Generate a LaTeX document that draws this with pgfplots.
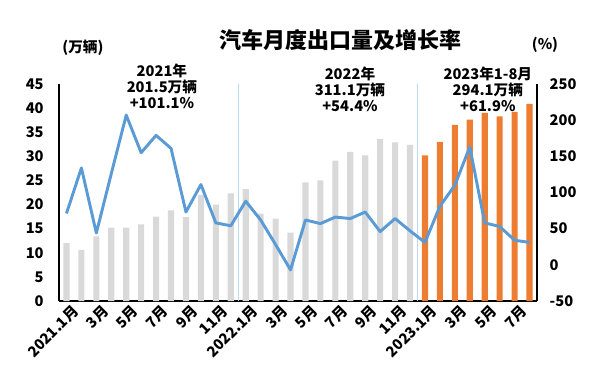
\documentclass[border=0pt]{standalone}
\usepackage{fontspec}
\setmainfont{Noto Sans CJK SC}
\usepackage{pgfplots}
\pgfplotsset{compat=1.18}
\definecolor{barGray}{HTML}{D9D9D9}
\definecolor{barOrange}{HTML}{ED7D31}
\definecolor{lineBlue}{HTML}{5B9BD5}
\definecolor{sepBlue}{HTML}{BDD7EE}
\newcommand\lbl{\bfseries\fontsize{11pt}{12pt}\selectfont}
\begin{document}
\begin{tikzpicture}
\path[use as bounding box] (-44.25pt,-59.25pt) rectangle (405.75pt,225.75pt);
\begin{axis}[
  scale only axis, width=358.5pt, height=162.75pt,
  xmin=-0.5, xmax=31.5, ymin=0, ymax=45,
  axis x line*=bottom, axis y line*=left,
  axis line style={black, line width=1pt},
  ytick={0,5,...,45},
  xtick={0,2,...,30},
  xticklabels={2021.1月,3月,5月,7月,9月,11月,2022.1月,3月,5月,7月,9月,11月,2023.1月,3月,5月,7月},
  x tick label style={rotate=45, anchor=north east, font=\lbl, inner sep=1pt, yshift=-3pt, xshift=2pt},
  y tick label style={font=\lbl, xshift=-8pt},
  major tick length=0pt,
  /pgf/number format/assume math mode=true,
  clip=false,
]
\addplot[sepBlue, line width=0.6pt] coordinates {(11.5,0) (11.5,45)};
\addplot[sepBlue, line width=0.6pt] coordinates {(23.5,0) (23.5,45)};
\addplot[ybar, bar width=4.6pt, bar shift=0pt, fill=barGray, draw=none] coordinates {
 (0,12.0) (1,10.6) (2,13.4) (3,15.2) (4,15.2) (5,15.9) (6,17.5) (7,18.8) (8,17.4) (9,22.0) (10,20.0) (11,22.3)
 (12,23.2) (13,18.1) (14,17.1) (15,14.2) (16,24.6) (17,25.0) (18,29.1) (19,30.9) (20,30.2) (21,33.6) (22,32.9) (23,32.4)};
\addplot[ybar, bar width=4.6pt, bar shift=0pt, fill=barOrange, draw=none] coordinates {
 (24,30.2) (25,33.0) (26,36.5) (27,37.6) (28,39.0) (29,38.3) (30,39.2) (31,40.9)};
\node[font=\lbl, align=center] at (axis cs:6.39,44.6) {2021年\\201.5万辆\\+101.1\%};
\node[font=\lbl, align=center] at (axis cs:18.98,44.0) {2022年\\311.1万辆\\+54.4\%};
\node[font=\lbl, align=center] at (axis cs:28.21,44.0) {2023年1-8月\\294.1万辆\\+61.9\%};
\end{axis}
\begin{axis}[
  scale only axis, width=358.5pt, height=162.75pt,
  xmin=-0.5, xmax=31.5, ymin=-50, ymax=250,
  axis y line*=right, axis x line=none,
  axis line style={black, line width=1pt},
  ytick={-50,0,...,250},
  y tick label style={font=\lbl, xshift=6pt},
  major tick length=0pt,
  /pgf/number format/assume math mode=true,
  clip=false,
]
\addplot[lineBlue, line width=2.2pt, line join=round, mark=none] coordinates {
 (0,71) (1,134) (2,44) (3,126) (4,207) (5,155) (6,179) (7,161) (8,73) (9,111) (10,58) (11,54)
 (12,88) (13,62) (14,28) (15,-7) (16,62) (17,57) (18,66) (19,64) (20,73) (21,46) (22,64) (23,47)
 (24,31) (25,81) (26,110) (27,163) (28,58) (29,53) (30,34) (31,31)};
\end{axis}
\node[font=\bfseries\fontsize{16.5pt}{18pt}\selectfont] at (210.75pt,195.75pt) {汽车月度出口量及增长率};
\node[font=\lbl] at (18pt,189.75pt) {(万辆)};
\node[font=\lbl] at (364.5pt,192pt) {(\%)};
\end{tikzpicture}
\end{document}
